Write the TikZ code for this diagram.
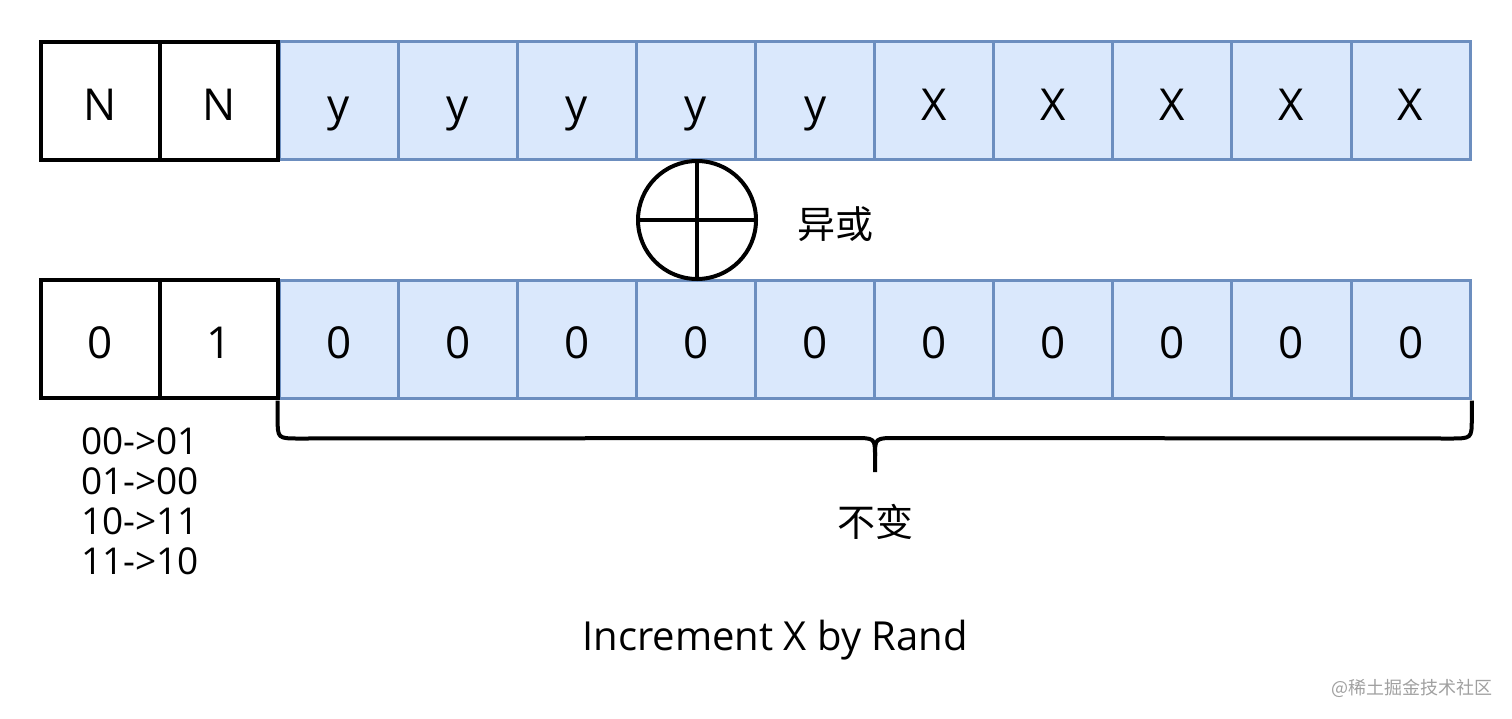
\documentclass[tikz,border=0pt]{standalone}
\usepackage{fontspec}
\setmainfont{Open Sans}
\newfontfamily\cjk{Noto Sans CJK SC}
\definecolor{cellfill}{HTML}{DAE8FC}
\definecolor{celldraw}{HTML}{6C8EBF}
\definecolor{wmgrey}{HTML}{A0A0A0}
\tikzset{
  cellfont/.style={font=\fontsize{44}{52}\selectfont, text height=39pt, text depth=0pt},
  bluecell/.style={draw=celldraw, fill=cellfill, line width=3pt, minimum width=119.2pt, minimum height=118pt, inner sep=0pt, cellfont},
  blackcell/.style={draw=black, fill=white, line width=4pt, minimum width=118.5pt, minimum height=118pt, inner sep=0pt, cellfont},
  bigline/.style={line width=4pt, black},
  cjklabel/.style={font=\cjk\fontsize{38}{46}\selectfont, inner sep=0pt},
}
\begin{document}
\begin{tikzpicture}[x=1pt,y=-1pt]
\useasboundingbox (0,0) rectangle (1512,718);
% top row
\foreach \i/\t in {3/y,4/y,5/y,6/y,7/y,8/X,9/X,10/X,11/X,12/X}{
  \node[bluecell] (t\i) at ({41+119.1*(\i-0.5)},100.5) {\t};
}
\foreach \i/\t in {3/0,4/0,5/0,6/0,7/0,8/0,9/0,10/0,11/0,12/0}{
  \node[bluecell] (b\i) at ({41+119.1*(\i-0.5)},339) {\t};
}
\node[blackcell] (t1) at (100.5,100.5) {N};
\node[blackcell] (t2) at (219,100.5) {N};
\node[blackcell] (b1) at (100.5,339) {0};
\node[blackcell] (b2) at (219,339) {1};
% xor
\node[draw, circle, line width=4pt, minimum size=118pt, inner sep=0pt] (xor) at (697,220) {};
\draw[bigline] (xor.north) -- (xor.south);
\draw[bigline] (xor.west) -- (xor.east);
\node[cjklabel] (xorlabel) at (835,224) {异或};
% brace
\coordinate (bl) at (b3.south west);
\coordinate (br) at (b12.south east);
\coordinate (tip) at (875,472);
\draw[bigline, line join=round]
  ([yshift=-1pt]bl) -- ++(0,18) .. controls ++(0,20) .. ++(22,20)
  -- (853,438) .. controls (875,438) .. (875,456) -- (tip);
\draw[bigline, line join=round]
  ([yshift=-1pt]br) -- ++(0,18) .. controls ++(0,20) .. ++(-22,20)
  -- (897,438) .. controls (875,438) .. (875,456);
\node[cjklabel] (keep) at (875,522) {不变};
% left text
\node[align=center, font=\fontsize{37}{40}\selectfont, inner sep=0pt] (rules) at (140,501) {00->01\\01->00\\10->11\\11->10};
% title
\node[font=\fontsize{40}{48}\selectfont, inner sep=0pt] (title) at (775,640) {Increment X by Rand};
% watermark
\node[font=\cjk\fontsize{18}{22}\selectfont, text=wmgrey, inner sep=0pt] (wm) at (1412,688) {@稀土掘金技术社区};
\end{tikzpicture}
\end{document}
